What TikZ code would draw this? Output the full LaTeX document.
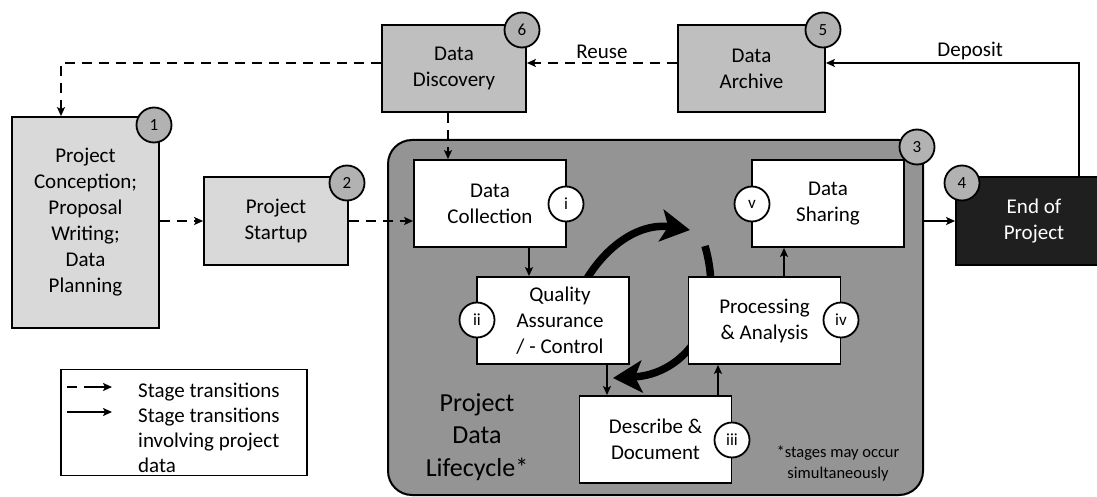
\documentclass[tikz,border=0pt]{standalone}
\usepackage{fontspec}
\setmainfont{Carlito}
\usetikzlibrary{arrows.meta,positioning}

\tikzset{
  stagebox/.style={draw, line width=1.8pt, align=center, inner sep=2pt},
  substagebox/.style={stagebox, fill=white, minimum width=152pt, minimum height=87pt},
  stagenum/.style={circle, draw, line width=1.8pt, fill=black!30, minimum size=35pt, inner sep=0pt, font=\fontsize{17}{20}\selectfont},
  substagenum/.style={stagenum, fill=white},
  dasharrow/.style={line width=1.6pt, dash pattern=on 10pt off 7pt, -{Stealth[length=9pt,width=8pt,inset=2pt]}},
  dataarrow/.style={line width=1.6pt, -{Stealth[length=9pt,width=8pt,inset=2pt]}},
  bigarrow/.style={line width=7.5pt, -{Stealth[length=29pt,width=32pt,inset=7pt]}}
}

\begin{document}
\begin{tikzpicture}[x=1pt, y=-1pt, font=\fontsize{21}{26}\selectfont]
\useasboundingbox (0,0) rectangle (1097,497);

\node [stagebox, fill=black!15, minimum width=147pt, minimum height=211pt] (conc) at (85.5,222.5) {Project\\Conception;\\Proposal\\Writing;\\Data\\Planning};
\node [stagebox, fill=black!15, minimum width=144pt, minimum height=88pt] (startup) at (276,221) {Project\\Startup};
\node [stagebox, fill=black!25, minimum width=144pt, minimum height=87pt] (disc) at (454,68.5) {Data\\Discovery};
\node [stagebox, fill=black!25, minimum width=147pt, minimum height=87pt] (archive) at (751.5,68.5) {Data\\Archive};
\node [stagebox, fill=black!88, text=white, minimum width=156pt, minimum height=88pt] (projend) at (1034,221) {End of\\Project};

\node [draw, line width=2pt, fill=black!42, rounded corners=24pt, minimum width=535pt, minimum height=355pt] (lifecycle) at (655.5,317.5) {};

\draw [bigarrow] (586,280) .. controls (611,239) and (645,223) .. (690,230);
\draw [bigarrow] (705,246) .. controls (727,323) and (683,374.5) .. (613,378);

\node [substagebox] (collect) at (490,203.5) {Data\\Collection};
\node [substagebox] (share) at (828,203.5) {Data\\Sharing};
\node [substagebox, label={[align=center, xshift=7pt]center:{Quality\\Assurance\\/ - Control}}] (qa) at (553,320.5) {};
\node [substagebox] (proc) at (764.5,320.5) {Processing\\\& Analysis};
\node [substagebox] (desc) at (655.5,439.5) {Describe \&\\Document};

\node [stagenum] (n1) at (154,125) {1};
\node [stagenum] (n2) at (347,183) {2};
\node [stagenum] (n3) at (917,147) {3};
\node [stagenum] (n4) at (962,183) {4};
\node [stagenum] (n5) at (823,30) {5};
\node [stagenum] (n6) at (522,30) {6};

\node [substagenum] (si) at (566,204) {i};
\node [substagenum] (sii) at (477,320) {ii};
\node [substagenum] (siii) at (732,440) {iii};
\node [substagenum] (siv) at (841,320) {iv};
\node [substagenum] (sv) at (752,204) {v};

\node [font=\fontsize{26}{32.5}\selectfont, align=center] (lifelabel) at (477,437) {Project\\Data\\Lifecycle*};
\node [font=\fontsize{16.5}{21}\selectfont, align=center] (simnote) at (838,463) {*stages may occur\\simultaneously};

\coordinate (reusecorner) at (61,63);
\coordinate (depcorner) at (1079,63);

\draw [dasharrow] (disc.west |- reusecorner) -- (reusecorner) -- (reusecorner |- conc.north);
\draw [dasharrow] (archive.west |- reusecorner) -- node [above] {Reuse} (disc.east |- reusecorner);
\draw [dataarrow] (projend.north -| depcorner) -- (depcorner) -- node [above=-1pt, pos=0.43] {Deposit} (archive.east |- depcorner);
\draw [dasharrow] (conc.east |- startup.west) -- (startup.west);
\draw [dasharrow] (startup.east) -- (startup.east -| collect.west);
\draw [dasharrow] ([xshift=-6pt]disc.south) -- ([xshift=-6pt]disc.south |- collect.north);
\draw [dataarrow] (lifecycle.east |- projend.west) -- (projend.west);

\draw [dataarrow] ([xshift=39pt]collect.south) -- ([xshift=39pt]collect.south |- qa.north);
\draw [dataarrow] ([xshift=54pt]qa.south) -- ([xshift=54pt]qa.south |- desc.north);
\draw [dataarrow] ([xshift=62.5pt]desc.north) -- ([xshift=62.5pt]desc.north |- proc.south);
\draw [dataarrow] ([xshift=19.5pt]proc.north) -- ([xshift=19.5pt]proc.north |- share.south);

\node [draw, line width=1.5pt, minimum width=246pt, minimum height=106pt] (legend) at (184,422.5) {};
\draw [dasharrow, dash pattern=on 10pt off 7pt on 40pt off 7pt] (67,387) -- (112,387);
\draw [dataarrow] (67,412) -- (112,412);
\node [anchor=north west, align=left, inner sep=0pt, font=\fontsize{21}{25}\selectfont] (legtext) at (138,383) {Stage transitions\\Stage transitions\\involving project\\data};

\end{tikzpicture}
\end{document}
